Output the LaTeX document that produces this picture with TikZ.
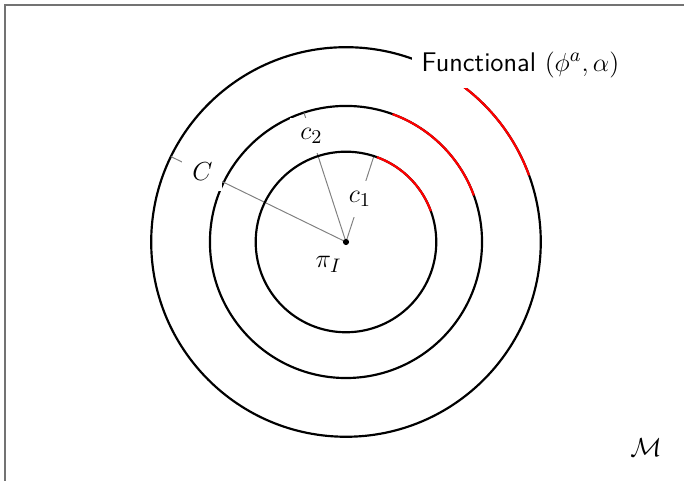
\documentclass[tikz,border=0pt]{standalone}
\usepackage{amsmath,amssymb}
\usetikzlibrary{positioning,calc}

\tikzset{
  ring/.style={line width=1pt},
  radial/.style={draw=black!50, line width=0.45pt},
  cutlabel/.style={fill=white, inner sep=4.6pt},
  dot/.style={circle, fill=black, inner sep=0pt, minimum size=0.1cm}
}

\begin{document}
\begin{tikzpicture}[font=\fontsize{12.4}{15}\selectfont]
\useasboundingbox (-5.595,-3.865) rectangle (5.466,3.913);
\draw[black!55, line width=0.9pt] (-5.514,-4.5) -- (-5.514,3.832) -- (6,3.832);
% level sets (outer two first, labels cut them)
\draw[ring] (0,0) circle (2.2);
\draw[ring] (0,0) circle (3.15);
\foreach \r in {2.2,3.15}
  \draw[ring, red] (20:\r) arc (20:70:\r);
\coordinate (o) at (0,0);
\coordinate (e1) at (72:1.46);
\coordinate (e2) at (108:2.2);
\coordinate (e3) at (154:3.15);
\draw[radial] (o) -- node[cutlabel, pos=0.5] (c1) {$c_1$} (e1);
\draw[radial] (o) -- node[cutlabel, pos=0.82] (c2) {$c_2$} (e2);
\draw[radial] (o) -- node[cutlabel, pos=0.82] (C) {$C$} (e3);
% innermost level set on top
\draw[ring] (0,0) circle (1.46);
\draw[ring, red] (20:1.46) arc (20:70:1.46);
\node[dot] (piI) at (o) {};
\node (pilabel) at (-0.28,-0.36) {$\pi_I$};
\node[cutlabel] (func) at (2.822,2.87) {\sffamily Functional $(\phi^a,\alpha)$};
\node (mfd) at (4.85,-3.32) {$\mathcal{M}$};
\end{tikzpicture}
\end{document}
